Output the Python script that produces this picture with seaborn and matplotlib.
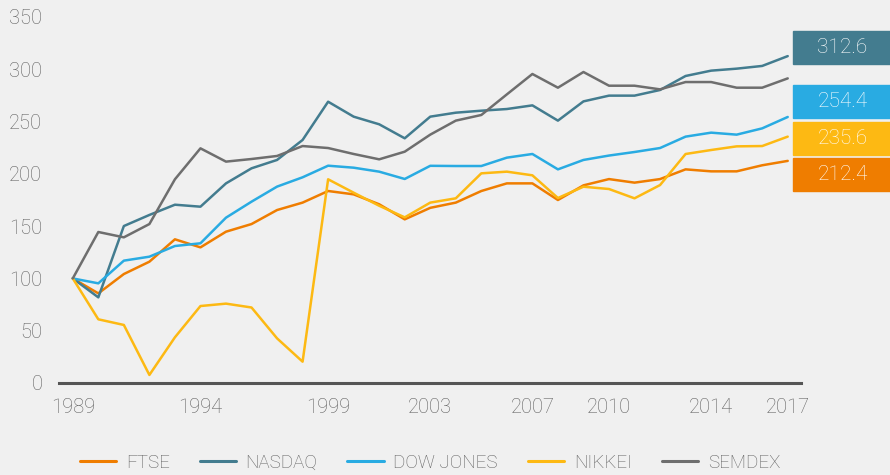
import numpy as np
import pandas as pd
import seaborn as sns
import matplotlib.pyplot as plt
from matplotlib.patches import Rectangle

# index levels, 1989 = 100
years = list(range(1989, 2018))
ftse = [100, 85.7, 104.2, 116, 137.4, 129.7, 144.7, 152, 165.4, 172.5, 183.6, 180.4, 170.9, 156.5, 167.5,
        172.5, 183.6, 190.9, 190.9, 175, 189, 195, 191.6, 195, 204.3, 202.4, 202.4, 208.2, 212.4]
nasdaq = [100, 81.9, 150.1, 160.7, 170.5, 168.6, 190.9, 205.3, 213.3, 232.4, 269, 254.7, 247.4, 234, 254.7,
          258.5, 260.4, 262, 265.5, 250.9, 269.3, 274.8, 274.8, 280.2, 293.6, 298.7, 300.6, 303.2, 312.6]
dow = [100, 95.3, 117, 120.8, 131, 133.6, 158.1, 173.4, 187.8, 196.7, 207.8, 205.9, 202.1, 195.1, 207.7,
       207.5, 207.5, 215.5, 219, 204.3, 213.3, 217.5, 220.9, 224.7, 235.6, 239.4, 237.5, 243.5, 254.4]
nikkei = [100, 60.9, 55.5, 7.7, 43.7, 73.6, 75.9, 72.2, 42.7, 20.4, 194.8, 182, 169.5, 158.4, 172.5,
          176.6, 200.5, 202.1, 198.6, 176.9, 187.7, 185.5, 176.6, 189.3, 219, 222.8, 226.3, 226.6, 235.6]
semdex = [100, 144.4, 139.3, 152, 194.8, 224.4, 211.7, 214.2, 217.1, 226.6, 224.7, 219, 213.9, 221.2, 237.5,
          250.9, 256.3, 276, 295.5, 282.4, 297.4, 284.3, 284.3, 280.8, 287.8, 287.8, 282.4, 282.4, 291.3]

names = ["FTSE", "NASDAQ", "DOW JONES", "NIKKEI", "SEMDEX"]
colors = {"FTSE": "#EF7D00", "NASDAQ": "#437C8F", "DOW JONES": "#29ABE2",
          "NIKKEI": "#FDB913", "SEMDEX": "#6E6E6E"}
xticks = [1989, 1994, 1999, 2003, 2007, 2010, 2014, 2017]
labelled = ["NASDAQ", "DOW JONES", "NIKKEI", "FTSE"]

series = dict(zip(names, [ftse, nasdaq, dow, nikkei, semdex]))
df = pd.DataFrame({"year": years, **series}).melt("year", var_name="index", value_name="value")

sns.set_theme(style="white")
plt.rcParams["font.family"] = ["Roboto", "DejaVu Sans"]
plt.rcParams["font.weight"] = "light"
bg = "#F0F0F0"
text_col = "#5F5F5F"

fig = plt.figure(figsize=(8.9, 4.75), dpi=100, facecolor=bg)
ax = fig.add_axes([59 / 890, 92 / 475, 742 / 890, 366 / 475])
ax.set_facecolor(bg)

sns.lineplot(data=df, x="year", y="value", hue="index", hue_order=names, palette=colors,
             linewidth=1.8, ax=ax, legend=False)

ax.set_xlim(1988.46, 2017.52)
ax.set_ylim(0, 350)
ax.set_xticks(xticks)
ax.set_yticks(range(0, 351, 50))
ax.set_xlabel("")
ax.set_ylabel("")
ax.tick_params(axis="both", length=0, labelsize=14.5, colors=text_col)
ax.tick_params(axis="x", pad=11)
ax.tick_params(axis="y", pad=12)
for s in ["top", "right", "left"]:
    ax.spines[s].set_visible(False)
ax.spines["bottom"].set_color("#555555")
ax.spines["bottom"].set_linewidth(2.2)
ax.grid(False)

# end value boxes, spread apart so they don't overlap
ends = {n: series[n][-1] for n in labelled}
box_h = 31.6
sep = 35.1
order = sorted(labelled, key=lambda n: -ends[n])
pos = {n: ends[n] for n in order}
for _ in range(50):
    moved = False
    for a, b in zip(order[:-1], order[1:]):
        if pos[a] - pos[b] < sep:
            push = (sep - (pos[a] - pos[b])) / 2
            pos[a] += push
            pos[b] -= push
            moved = True
    if not moved:
        break
pos["NASDAQ"] += 8

trans = ax.get_yaxis_transform()
for n in labelled:
    y = pos[n]
    ax.add_patch(Rectangle((0.989, y - box_h / 2), 0.2, box_h, transform=trans,
                           color=colors[n], clip_on=False, zorder=5))
    ax.text(1.056, y, f"{ends[n]:.1f}", transform=trans, ha="center", va="center",
            color="white", fontsize=15, clip_on=False, zorder=6)

handles = [plt.Line2D([], [], color=colors[n], linewidth=2.2) for n in names]
fig.legend(handles, names, loc="center", bbox_to_anchor=(430 / 890, 12 / 475), ncol=5,
           frameon=False, fontsize=13.5, handlelength=1.95, handletextpad=0.5,
           columnspacing=1.6, labelcolor=text_col)

fig.savefig("out.png", dpi=100, facecolor=bg)
